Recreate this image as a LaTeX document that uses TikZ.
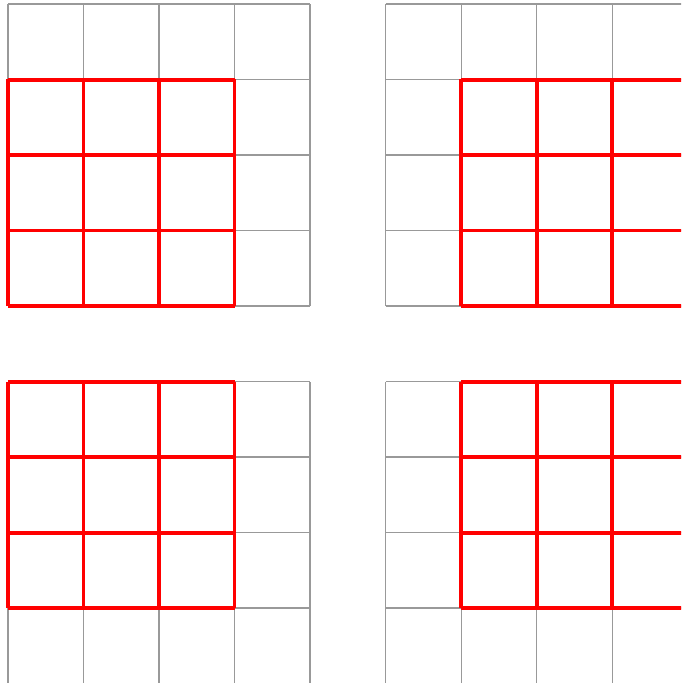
\documentclass[tikz,border=0pt]{standalone}
\begin{document}
\begin{tikzpicture}[x=1cm,y=1cm,
  gridline/.style={draw=gray!80, line width=0.4pt},
  redgrid/.style={draw=red, line width=1.5pt}]
\useasboundingbox (-0.106,0.007) rectangle (8.914,9.053);
\begin{scope}
\clip (-0.106,0.007) rectangle (8.914,9.053);
% top-left
\draw[gridline] (0,5) grid (4,9);
\draw[redgrid] (0,5) grid (3,8);
% top-right
\draw[gridline] (5,5) grid (9,9);
\draw[redgrid] (6,5) grid (9,8);
% bottom-left
\draw[gridline] (0,0) grid (4,4);
\draw[redgrid] (0,1) grid (3,4);
% bottom-right
\draw[gridline] (5,0) grid (9,4);
\draw[redgrid] (6,1) grid (9,4);
\end{scope}
\end{tikzpicture}
\end{document}
